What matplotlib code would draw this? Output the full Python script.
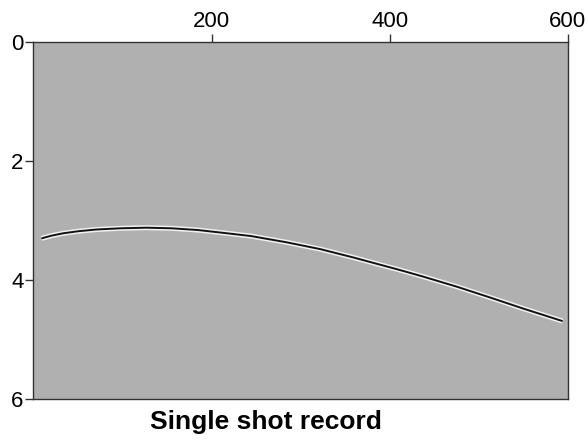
import matplotlib
matplotlib.use('Agg')
import matplotlib.pyplot as plt

plt.rcParams['font.family'] = ['Liberation Sans', 'DejaVu Sans']

# picked arrival of the reflection (trace no., time in s)
traces = [9, 20, 33, 50, 71, 98, 127, 155, 185, 209, 244, 284, 322, 359, 411, 437, 475, 512, 550, 594]
times = [3.30, 3.255, 3.215, 3.18, 3.15, 3.13, 3.12, 3.13, 3.16, 3.20, 3.26, 3.365, 3.48, 3.62, 3.83, 3.94, 4.11, 4.29, 4.48, 4.69]

x_ticks = [200, 400, 600]
y_ticks = [0, 2, 4, 6]

fig = plt.figure(figsize=(5.87, 4.40), dpi=100)
ax = fig.add_axes([0.057, 0.093, 0.9105, 0.8115])
ax.set_facecolor('#b0b0b0')

# white side lobes under the black trough
ax.plot(traces, times, '-', color='#f2f2f2', lw=3.6, solid_capstyle='butt', solid_joinstyle='round')
ax.plot(traces, times, '-', color='#111111', lw=1.4, solid_capstyle='butt', solid_joinstyle='round')

ax.set_xlim(0, 600)
ax.set_ylim(6, 0)
ax.xaxis.tick_top()
ax.set_xticks(x_ticks)
ax.set_yticks(y_ticks)
ax.tick_params(labelsize=16, length=5.5, width=1, color='#333333', pad=1.5)
for s in ax.spines.values():
    s.set_color('#333333')
    s.set_linewidth(1)

fig.text(0.453, 0.041, 'Single shot record', ha='center', va='center',
         fontsize=19, fontweight='bold')

plt.savefig('out.png', dpi=100)
